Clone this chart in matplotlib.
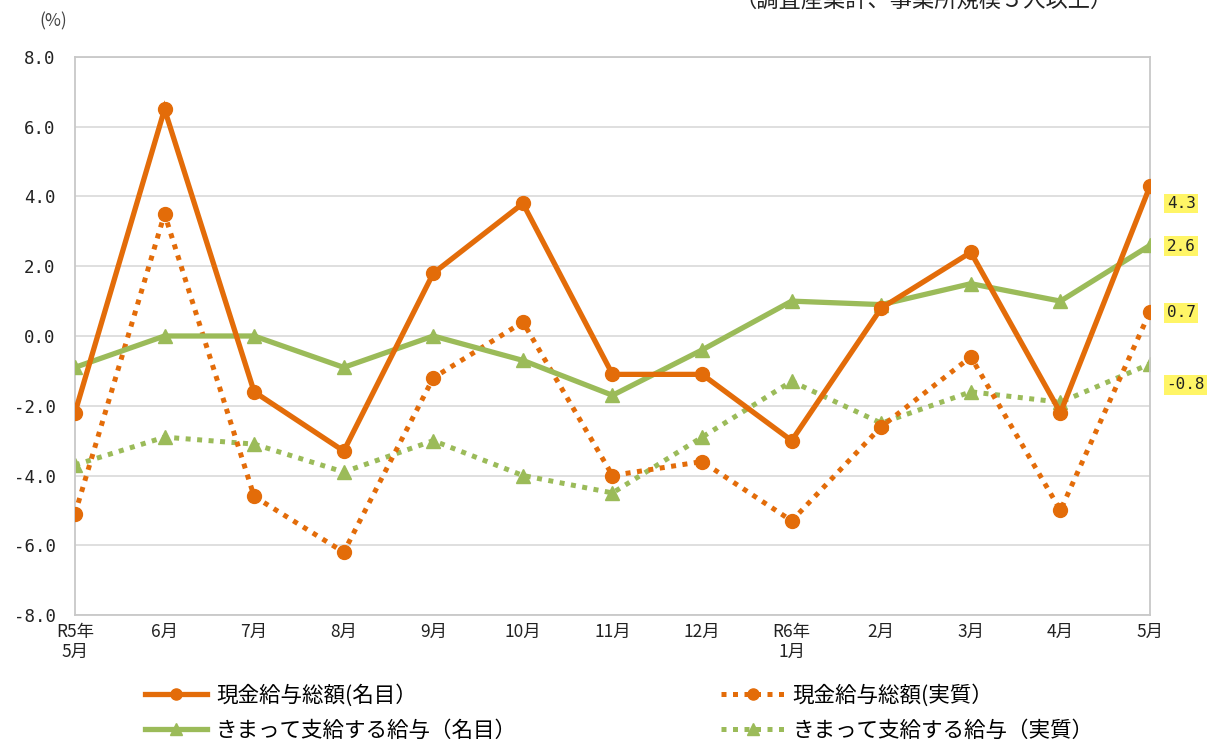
import matplotlib
matplotlib.use("Agg")
import matplotlib.pyplot as plt
from matplotlib.lines import Line2D

plt.rcParams['font.family'] = ['Noto Sans CJK JP', 'DejaVu Sans']

months = ["R5年\n5月", "6月", "7月", "8月", "9月", "10月", "11月", "12月",
          "R6年\n1月", "2月", "3月", "4月", "5月"]
total_nominal = [-2.2, 6.5, -1.6, -3.3, 1.8, 3.8, -1.1, -1.1, -3.0, 0.8, 2.4, -2.2, 4.3]
total_real = [-5.1, 3.5, -4.6, -6.2, -1.2, 0.4, -4.0, -3.6, -5.3, -2.6, -0.6, -5.0, 0.7]
fixed_nominal = [-0.9, 0.0, 0.0, -0.9, 0.0, -0.7, -1.7, -0.4, 1.0, 0.9, 1.5, 1.0, 2.6]
fixed_real = [-3.7, -2.9, -3.1, -3.9, -3.0, -4.0, -4.5, -2.9, -1.3, -2.5, -1.6, -1.9, -0.8]
series_names = ["現金給与総額(名目）", "現金給与総額(実質）",
                "きまって支給する給与（名目）", "きまって支給する給与（実質）"]
yticks = [8.0, 6.0, 4.0, 2.0, 0.0, -2.0, -4.0, -6.0, -8.0]

ORANGE = "#E36C09"
GREEN = "#9BBB59"

fig = plt.figure(figsize=(12.07, 7.46), dpi=100)
ax = fig.add_axes([0.0621, 0.1756, 0.8907, 0.748])

x = list(range(len(months)))
dotted = (0, (1, 1.3))
ax.plot(x, total_nominal, color=ORANGE, lw=3.8, marker='o', ms=10, zorder=4,
        solid_joinstyle='miter')
ax.plot(x, total_real, color=ORANGE, lw=3.6, ls=dotted, marker='o', ms=10, zorder=3,
        dash_capstyle='butt')
ax.plot(x, fixed_nominal, color=GREEN, lw=3.8, marker='^', ms=10, zorder=3)
ax.plot(x, fixed_real, color=GREEN, lw=3.6, ls=dotted, marker='^', ms=10, zorder=2,
        dash_capstyle='butt')

ax.set_xlim(0, len(months) - 1)
ax.set_ylim(-8, 8)
ax.set_yticks(yticks)
ax.set_yticklabels([f"{v:.1f}" for v in yticks], family='DejaVu Sans Mono', fontsize=12.5,
                   color='#222222')
ax.set_xticks(x)
ax.set_xticklabels(months, fontsize=12.5, color='#222222', linespacing=1.1)
ax.tick_params(axis='both', length=0)
ax.tick_params(axis='x', pad=6)
ax.tick_params(axis='y', pad=14)
ax.grid(axis='y', color='#D9D9D9', lw=1.2)
ax.set_axisbelow(True)
for s in ax.spines.values():
    s.set_color('#C8C8C8')
    s.set_linewidth(1.3)

# value labels at right end
last_vals = [total_nominal[-1], fixed_nominal[-1], total_real[-1], fixed_real[-1]]
label_y = [3.8, 2.58, 0.66, -1.4]
for v, ly in zip(last_vals, label_y):
    ax.annotate(f"{v:.1f}", xy=(len(months) - 1, ly), xytext=(12, 0),
                textcoords='offset points', va='center', ha='left',
                family='DejaVu Sans Mono', fontsize=11.5, color='#222222',
                bbox=dict(boxstyle='square,pad=0.15', fc='#FFF566', ec='none'),
                annotation_clip=False)

fig.text(0.033, 0.972, "(%)", fontsize=12.5, color='#444444', ha='left', va='center')
fig.text(0.765, 1.0, "（調査産業計、事業所規模５人以上）", fontsize=16, color='#222222',
         ha='center', va='center')

h_tn = Line2D([], [], color=ORANGE, lw=3.8, marker='o', ms=8)
h_tr = Line2D([], [], color=ORANGE, lw=3.6, ls=dotted, marker='o', ms=8, dash_capstyle='butt')
h_fn = Line2D([], [], color=GREEN, lw=3.8, marker='^', ms=8)
h_fr = Line2D([], [], color=GREEN, lw=3.6, ls=dotted, marker='^', ms=8, dash_capstyle='butt')
handles = [h_tn, h_fn, h_tr, h_fr]
labels = [series_names[0], series_names[2], series_names[1], series_names[3]]
leg = fig.legend(handles, labels, loc='lower left', bbox_to_anchor=(0.104, -0.02),
                 ncol=2, frameon=False, fontsize=15.5, handlelength=2.9, handletextpad=0.4,
                 columnspacing=9.5, labelspacing=0.6)

fig.savefig("out.png", dpi=100)
